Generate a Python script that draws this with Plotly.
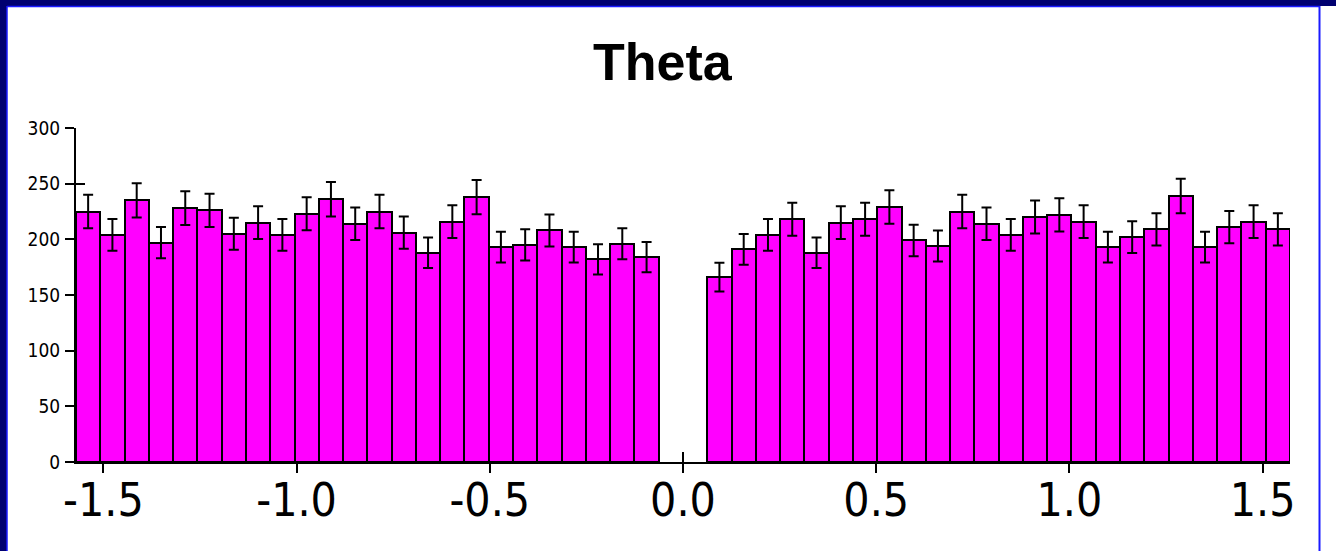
import math
import plotly.graph_objects as go

# Histogram of theta: 50 equal bins over [-pi/2, pi/2]; the two central bins are empty
n_bins = 50
counts = [
    225, 204, 235, 197, 228, 226, 205, 215, 204, 223, 236, 214,
    225, 206, 188, 216, 238, 193, 195, 208, 193, 182, 196, 184,
    0, 0,
    166, 191, 204, 218, 188, 215, 218, 229, 199, 194, 225, 214,
    204, 220, 222, 216, 193, 202, 209, 239, 193, 211, 216, 209,
]
errors = [
    15.0, 14.3, 15.3, 14.0, 15.1, 15.0, 14.3, 14.7, 14.3, 14.9, 15.4, 14.6,
    15.0, 14.4, 13.7, 14.7, 15.4, 13.9, 14.0, 14.4, 13.9, 13.5, 14.0, 13.6,
    0.0, 0.0,
    12.9, 13.8, 14.3, 14.8, 13.7, 14.7, 14.8, 15.1, 14.1, 13.9, 15.0, 14.6,
    14.3, 14.8, 14.9, 14.7, 13.9, 14.2, 14.5, 15.5, 13.9, 14.5, 14.7, 14.5,
]
x_tick_vals = [-1.5, -1.0, -0.5, 0.0, 0.5, 1.0, 1.5]
x_tick_text = ["-1.5", "-1.0", "-0.5", "0.0", "0.5", "1.0", "1.5"]
y_tick_vals = [0, 50, 100, 150, 200, 250, 300]

lo, hi = -math.pi / 2, math.pi / 2
bw = (hi - lo) / n_bins
centers = [lo + (i + 0.5) * bw for i in range(n_bins)]

# only non-empty bins are drawn
xs = [c for c, n in zip(centers, counts) if n > 0]
ys = [n for n in counts if n > 0]
es = [e for e, n in zip(errors, counts) if n > 0]

W, H = 1336, 551
L, R, T, B = 76, 46, 128, 89
PW, PH = W - L - R, H - T - B


def px(x):
    return (x - L) / PW


def py(y):
    return (H - B - y) / PH


NAVY = "#000070"
BLUE = "#1a1aff"
TICK_FONT = "DejaVu Sans Condensed, DejaVu Sans, Verdana, sans-serif"

fig = go.Figure()
fig.add_trace(go.Bar(
    x=xs, y=ys, width=bw,
    marker=dict(color="#ff00ff", line=dict(color="black", width=2)),
    error_y=dict(type="data", array=es, visible=True,
                 color="black", thickness=2, width=5),
    hoverinfo="x+y",
))
# empty trace that carries the overlay axes (inner half of the ticks)
fig.add_trace(go.Scatter(x=[None], y=[None], xaxis="x2", yaxis="y2",
                         showlegend=False, hoverinfo="skip"))

axis_common = dict(showgrid=False, zeroline=False, ticks="outside",
                   showline=True, linecolor="black", linewidth=2,
                   tickcolor="black", tickwidth=2, ticklen=9)

fig.update_layout(
    width=W, height=H,
    margin=dict(l=L, r=R, t=T, b=B, pad=0),
    paper_bgcolor="white", plot_bgcolor="white",
    showlegend=False, bargap=0,
    xaxis=dict(range=[lo, hi], tickvals=x_tick_vals, ticktext=x_tick_text,
               tickfont=dict(family=TICK_FONT, size=46, color="black"),
               ticklabelstandoff=-12,
               **axis_common),
    yaxis=dict(range=[0, 300], tickvals=y_tick_vals,
               tickfont=dict(family=TICK_FONT, size=19, color="black"),
               ticklabelstandoff=1,
               **axis_common),
    xaxis2=dict(overlaying="x", anchor="y", range=[lo, hi], tickvals=x_tick_vals,
                ticks="inside", ticklen=10, tickwidth=2, tickcolor="black",
                showticklabels=False, showgrid=False, zeroline=False,
                showline=False, layer="below traces"),
    yaxis2=dict(overlaying="y", anchor="x", range=[0, 300], tickvals=y_tick_vals,
                ticks="inside", ticklen=9, tickwidth=2, tickcolor="black",
                showticklabels=False, showgrid=False, zeroline=False,
                showline=False, layer="below traces"),
)

fig.add_annotation(
    text="<b>Theta</b>", xref="paper", yref="paper",
    x=px(663), y=py(62), xanchor="center", yanchor="middle",
    showarrow=False,
    font=dict(family="Liberation Sans, Arial, sans-serif", size=52, color="black"),
)

# slide frame: navy bands on top and left, thin blue edges
frame = [
    dict(type="rect", x0=px(0), x1=px(7), y0=py(0), y1=py(H),
         fillcolor=NAVY, line_width=0),
    dict(type="rect", x0=px(0), x1=px(W), y0=py(0), y1=py(6),
         fillcolor=NAVY, line_width=0),
    dict(type="line", x0=px(7), x1=px(1320), y0=py(6.5), y1=py(6.5),
         line=dict(color=BLUE, width=1.5)),
    dict(type="line", x0=px(7), x1=px(7), y0=py(6), y1=py(H),
         line=dict(color=BLUE, width=1.5)),
    dict(type="line", x0=px(1319.5), x1=px(1319.5), y0=py(6), y1=py(H),
         line=dict(color=BLUE, width=2)),
]
for s in frame:
    fig.add_shape(xref="paper", yref="paper", layer="above", **s)

fig.write_html("out.html")
